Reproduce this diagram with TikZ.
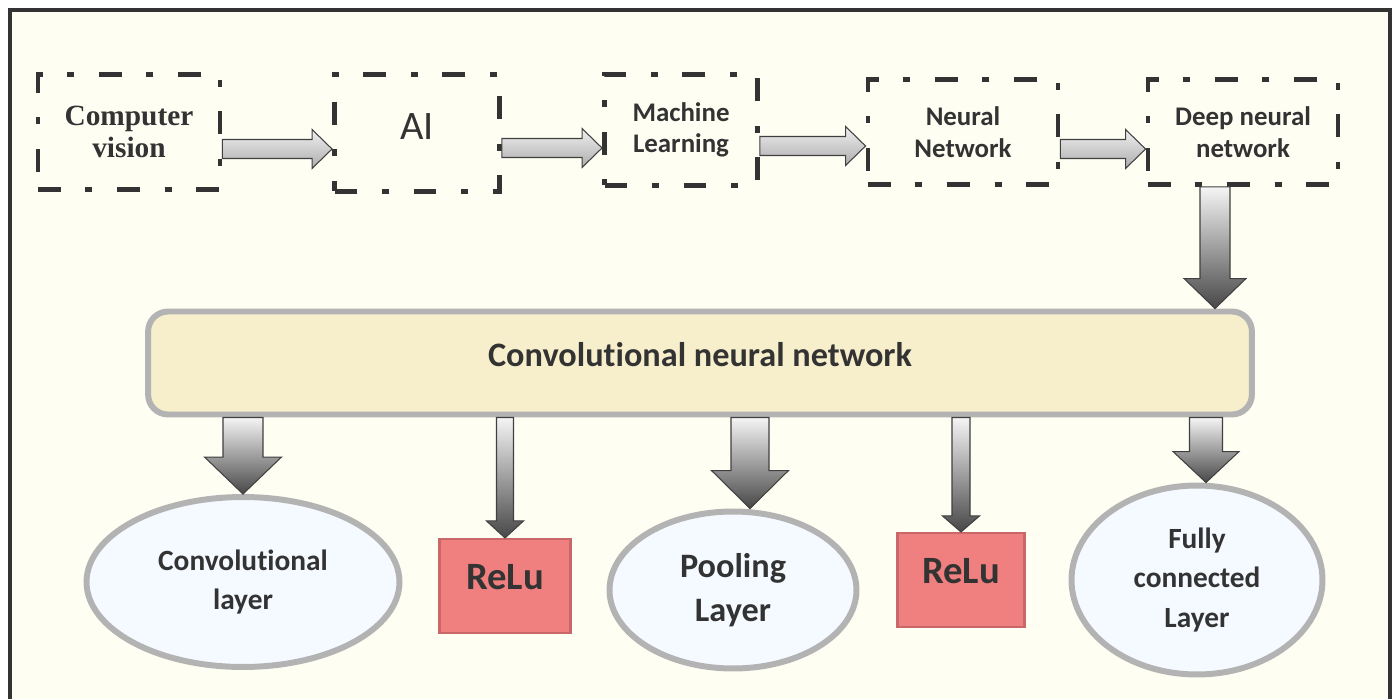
\documentclass[tikz,border=0pt]{standalone}
\usepackage{fontspec}
\setmainfont{Carlito}[Ligatures=NoCommon]
\newfontfamily\timesbold{Liberation Serif}
\usetikzlibrary{calc,shapes.geometric}

\definecolor{framegray}{HTML}{333333}
\definecolor{cream}{HTML}{FFFEF3}
\definecolor{cnnfill}{HTML}{F7EFCB}
\definecolor{rimgray}{HTML}{B3B3B3}
\definecolor{ellfill}{HTML}{F4FAFF}
\definecolor{relufill}{HTML}{F08080}
\definecolor{reludraw}{HTML}{C86868}
\definecolor{txt}{HTML}{333333}

% block arrow to the right: start, end
\newcommand{\rightblock}[2]{%
\draw[flatarrow] let \p1=#1, \p2=#2 in
  (\x1,\y1+0.19cm) -- (\x2-0.4cm,\y1+0.19cm) -- (\x2-0.4cm,\y1+0.39cm) -- (\x2,\y1)
  -- (\x2-0.4cm,\y1-0.39cm) -- (\x2-0.4cm,\y1-0.19cm) -- (\x1,\y1-0.19cm) -- cycle;}
% block arrow down: start, end, half shaft, half head, head length
\newcommand{\downblock}[5]{%
\draw[droparrow] let \p1=#1, \p2=#2 in
  (\x1-#3,\y1) -- (\x1+#3,\y1) -- (\x1+#3,\y2+#5) -- (\x1+#4,\y2+#5) -- (\x1,\y2)
  -- (\x1-#4,\y2+#5) -- (\x1-#3,\y2+#5) -- cycle;}

\begin{document}
\begin{tikzpicture}[x=0.02cm,y=-0.02cm,
  flowbox/.style={draw=framegray, line width=2.8pt, dash pattern=on 13pt off 14pt on 4pt off 14pt,
    align=center, text=txt, inner sep=0pt, font=\bfseries\fontsize{15.3}{18}\selectfont},
  layerell/.style={ellipse, draw=rimgray, line width=3.4pt, fill=ellfill, align=center,
    text=txt, inner sep=0pt},
  relubox/.style={draw=reludraw, line width=1.2pt, fill=relufill, text=txt, inner sep=0pt,
    text height=0.5cm, text depth=0.36cm, font=\bfseries\fontsize{22}{26}\selectfont},
  flatarrow/.style={draw=black!75, line width=0.6pt, top color=gray!12, bottom color=gray!65},
  droparrow/.style={draw=black!75, line width=0.6pt, top color=gray!8, bottom color=black!72}]

\useasboundingbox[fill=white] (0,0) rectangle (1400,699);
\draw[framegray, line width=2.8pt, fill=cream] (10,10) rectangle (1390,740);

% top row
\node[flowbox, minimum width=3.64cm, minimum height=2.3cm,
  font=\timesbold\bfseries\fontsize{16.7}{17.6}\selectfont] (cv) at (129,132) {Computer\\[0.5pt]vision};
\node[flowbox, minimum width=3.3cm, minimum height=2.34cm, text height=0.56cm, text depth=0.3cm,
  font=\fontsize{23}{26}\selectfont] (ai) at (417,133) {AI};
\node[flowbox, minimum width=3.06cm, minimum height=2.22cm] (ml) at (681,130) {Machine\\Learning};
\node[flowbox, minimum width=3.8cm, minimum height=2.1cm] (nn) at (963,132) {Neural\\Network};
\node[flowbox, minimum width=3.8cm, minimum height=2.1cm] (dnn) at (1243,132) {Deep neural\\network};

\rightblock{([yshift=-0.34cm]cv.east)}{(ai.west)}
\rightblock{([yshift=-0.3cm]ai.east)}{(ml.west)}
\rightblock{([yshift=-0.32cm]ml.east)}{(nn.west)}
\rightblock{([yshift=-0.34cm]nn.east)}{(dnn.west)}

% CNN bar
\node[draw=rimgray, line width=3.4pt, fill=cnnfill, rounded corners=0.4cm,
  minimum width=22.08cm, minimum height=2.06cm, text=txt, text height=0.45cm, text depth=0.32cm,
  font=\bfseries\fontsize{19.5}{22}\selectfont] (cnn) at (700,363) {Convolutional neural network};

\downblock{([xshift=-0.56cm]dnn.south)}{(cnn.north)}{0.3cm}{0.62cm}{0.6cm}

% layers
\node[layerell, minimum width=6.26cm, minimum height=3.4cm,
  font=\bfseries\fontsize{16.7}{22.5}\selectfont] (conv) at (243,582) {Convolutional\\layer};
\node[relubox, minimum width=2.62cm, minimum height=1.88cm] (relu1) at (505,586) {ReLu};
\node[layerell, minimum width=4.94cm, minimum height=3.14cm,
  font=\bfseries\fontsize{19.5}{25}\selectfont] (pool) at (733,590) {Pooling\\Layer};
\node[relubox, minimum width=2.54cm, minimum height=1.88cm] (relu2) at (961,580) {ReLu};
\node[layerell, minimum width=5.02cm, minimum height=3.78cm,
  font=\bfseries\fontsize{16.7}{22.7}\selectfont] (fc) at (1197,580) {Fully\\connected\\Layer};

\downblock{(cnn.south -| conv.north)}{(conv.north)}{0.4cm}{0.77cm}{0.74cm}
\downblock{(cnn.south -| relu1.north)}{(relu1.north)}{0.17cm}{0.37cm}{0.34cm}
\downblock{([xshift=0.34cm]cnn.south -| pool.north)}{(pool.north)}{0.38cm}{0.77cm}{0.76cm}
\downblock{(cnn.south -| relu2.north)}{(relu2.north)}{0.18cm}{0.37cm}{0.32cm}
\downblock{([xshift=0.18cm]cnn.south -| fc.north)}{(fc.north)}{0.33cm}{0.66cm}{0.62cm}
\end{tikzpicture}
\end{document}
